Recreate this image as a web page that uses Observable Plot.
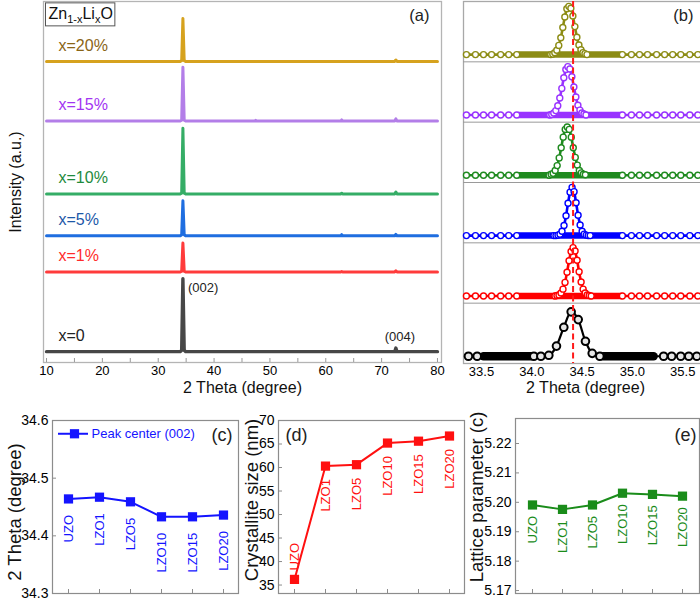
<!DOCTYPE html>
<html>
<head>
<meta charset="utf-8">
<script src="https://cdn.jsdelivr.net/npm/d3@7"></script>
<script src="https://cdn.jsdelivr.net/npm/@observablehq/plot@0.6"></script>
<style>
  body { margin: 0; background: #fff; }
  #fig { position: relative; width: 700px; height: 599px; overflow: hidden; background: #fff; }
  #fig svg { position: absolute; overflow: visible; }
</style>
</head>
<body>
<div id="fig"></div>
<script>
// ---------- Panel (a): XRD patterns of Zn(1-x)Li(x)O ----------
const samples = ["x=0", "x=1%", "x=5%", "x=10%", "x=15%", "x=20%"];
const traceColors = ["#474747", "#ff3b3b", "#1f6ee0", "#35ad66", "#b37ee8", "#d6a21e"];
const labelColors = ["#222222", "#ff2b2b", "#1d58a8", "#1e8a3c", "#a234f2", "#8a6416"];
const stackOffset = [3.0, 25.1, 35.1, 46.7, 66.9, 83.4];
const scanTwoTheta = [10, 33.95, 34.2, 34.42, 34.65, 34.9, 47.3, 47.45, 47.6, 62.7, 62.85, 63.0, 72.35, 72.55, 72.75, 80];
const scanIntensity = [
  [0, 0, 0.4, 20.2, 0.4, 0, 0, 0, 0, 0, 0, 0, 0, 1.0, 0, 0],
  [0, 0, 0.2, 8.0, 0.2, 0, 0, 0, 0, 0, 0.1, 0, 0, 0.3, 0, 0],
  [0, 0, 0.3, 9.7, 0.3, 0, 0, 0, 0, 0, 0.3, 0, 0, 0.4, 0, 0],
  [0, 0, 0.2, 18.2, 0.2, 0, 0, 0, 0, 0, 0.2, 0, 0, 0.5, 0, 0],
  [0, 0, 0.2, 14.9, 0.2, 0, 0, 0.2, 0, 0, 0.3, 0, 0, 0.6, 0, 0],
  [0, 0, 0.2, 11.9, 0.2, 0, 0, 0, 0, 0, 0, 0, 0, 0.4, 0, 0]
];
const majorTicksA = [10, 20, 30, 40, 50, 60, 70, 80];
const minorTicksA = [10, 15, 20, 25, 30, 35, 40, 45, 50, 55, 60, 65, 70, 75, 80];
const formulaParts = [["Zn", false], ["1-x", true], ["Li", false], ["x", true], ["O", false]];

// ---------- Panel (b): (002) peak profiles ----------
const zoomColors = ["#000000", "#ff0000", "#0000ff", "#1f8a1f", "#9933ff", "#8c8c14"];
const undopedTwoTheta = [34.02, 34.09, 34.169, 34.245, 34.318, 34.391, 34.461, 34.533, 34.600, 34.676];
const undopedIntensity = [0, 0, 0.02, 0.21, 0.60, 0.92, 0.76, 0.31, 0.06, 0];
const undopedCoarse = [33.37, 33.457, 35.31, 35.39, 35.48, 35.56, 35.64, 35.72];
const undopedFine = [[33.52, 33.99], [34.71, 35.21]];
const dopedCoarse = [33.35, 33.44, 33.52, 33.60, 33.69, 33.77, 33.85, 34.90, 34.99, 35.07, 35.15, 35.24, 35.32, 35.40, 35.48, 35.57, 35.65, 35.73];
const dopedFine = [33.87, 34.89];
const dopedCenters = [34.41, 34.40, 34.352, 34.358, 34.368];
const profileOffsets = [-0.18, -0.16, -0.14, -0.12, -0.10, -0.08, -0.06, -0.04, -0.02, 0, 0.02, 0.04, 0.06, 0.08, 0.10, 0.12, 0.14, 0.16, 0.18];
const profile1 = [0.00, 0.01, 0.02, 0.06, 0.14, 0.28, 0.49, 0.73, 0.92, 1.00, 0.93, 0.74, 0.50, 0.29, 0.14, 0.06, 0.02, 0.01, 0.00];
const profile5 = [0.00, 0.00, 0.01, 0.03, 0.09, 0.21, 0.41, 0.67, 0.90, 1.00, 0.91, 0.68, 0.42, 0.22, 0.09, 0.03, 0.01, 0.00, 0.00];
const profile10 = [0.00, 0.02, 0.04, 0.10, 0.20, 0.36, 0.57, 0.79, 0.95, 1.00, 0.95, 0.79, 0.57, 0.37, 0.21, 0.10, 0.05, 0.02, 0.01];
const profile15 = [0.00, 0.01, 0.04, 0.09, 0.19, 0.35, 0.55, 0.77, 0.94, 1.00, 0.95, 0.79, 0.58, 0.37, 0.20, 0.10, 0.04, 0.02, 0.00];
const profile20 = [0.00, 0.01, 0.04, 0.09, 0.19, 0.35, 0.56, 0.78, 0.95, 1.00, 0.96, 0.80, 0.58, 0.36, 0.20, 0.10, 0.04, 0.02, 0.00];
const referencePeak = 34.41;
const ticksB = [33.5, 34.0, 34.5, 35.0, 35.5];

// ---------- Panels (c)-(e): trends versus Li content ----------
const categories = ["UZO", "LZO1", "LZO5", "LZO10", "LZO15", "LZO20"];
const peakCenter002 = [34.464, 34.467, 34.459, 34.433, 34.433, 34.436];
const crystalliteSize = [36.2, 60.3, 60.6, 65.2, 65.6, 66.7];
const latticeC = [5.1991, 5.1976, 5.1991, 5.2031, 5.2027, 5.2021];
const ticksC = [34.3, 34.4, 34.5, 34.6];
const ticksD = [35, 40, 45, 50, 55, 60, 65, 70];
const ticksE = [5.17, 5.18, 5.19, 5.20, 5.21, 5.22];

const FONT = '"Liberation Sans", Arial, Helvetica, sans-serif';
const fig = document.getElementById("fig");
function place(svg, left, top) {
  svg.style.left = left + "px";
  svg.style.top = top + "px";
  fig.appendChild(svg);
  return svg;
}

// ---- (a) ----
{
  const W = 452, H = 400, mL = 43, mR = 11, mT = 1, mB = 38;
  const fh = H - mT - mB;
  const marks = [
    Plot.frame({stroke: "#b4b4b4", strokeWidth: 1.3}),
    Plot.tickX(minorTicksA, {x: d => d, insetTop: fh - 4, stroke: "#999"}),
    Plot.axisX({ticks: majorTicksA, tickSize: 0, tickPadding: 3, fontSize: 13, label: null, tickFormat: d => String(d)})
  ];
  samples.forEach((s, i) => {
    const rows = scanTwoTheta.map((t, j) => ({t, v: stackOffset[i] + scanIntensity[i][j]}));
    marks.push(Plot.line(rows, {x: "t", y: "v", stroke: traceColors[i], strokeWidth: i === 0 ? 3.4 : 3, strokeLinejoin: "round"}));
    marks.push(Plot.text([s], {frameAnchor: "left", y: stackOffset[i], dx: 15, dy: -16, text: d => d, textAnchor: "start", fill: labelColors[i], fontSize: 16}));
  });
  marks.push(
    Plot.text(["(002)"], {x: scanTwoTheta[3], y: stackOffset[0] + scanIntensity[0][3], dx: 5, dy: 9, text: d => d, textAnchor: "start", fontSize: 13, fill: "#222"}),
    Plot.text(["(004)"], {x: scanTwoTheta[13], y: stackOffset[0] + scanIntensity[0][13], dx: 4, dy: -11, text: d => d, fontSize: 13, fill: "#222"}),
    Plot.text(["(a)"], {frameAnchor: "top-right", dx: -12, dy: 8, lineAnchor: "top", textAnchor: "end", text: d => d, fontSize: 16.5, fill: "#222"}),
    Plot.text(["2 Theta (degree)"], {frameAnchor: "bottom", dy: 30, text: d => d, textAnchor: "middle", fontSize: 16, fill: "#111"}),
    Plot.text(["Intensity (a.u.)"], {frameAnchor: "left", rotate: -90, dx: -28, text: d => d, textAnchor: "middle", fontSize: 16, fill: "#111"}),
    Plot.text([formulaParts.map(p => p[0]).join("")], {frameAnchor: "top-left", dx: 5, dy: 6, lineAnchor: "top", textAnchor: "start", text: d => d, fontSize: 16, fill: "#111"})
  );
  const svg = Plot.plot({
    width: W, height: H, marginLeft: mL, marginRight: mR, marginTop: mT, marginBottom: mB,
    style: {fontFamily: FONT, background: "transparent"},
    x: {domain: [9.46, 80.72]},
    y: {domain: [0, 100], axis: null},
    marks
  });
  place(svg, 0, 0);

  // Compound formula with subscripts, boxed
  const formula = formulaParts.map(p => p[0]).join("");
  const t = [...svg.querySelectorAll("text")].find(n => n.textContent === formula);
  if (t) {
    const NS = "http://www.w3.org/2000/svg";
    t.textContent = "";
    formulaParts.forEach(([s, sub], i) => {
      const ts = document.createElementNS(NS, "tspan");
      ts.textContent = s;
      if (sub) { ts.setAttribute("font-size", "11"); ts.setAttribute("dy", "4"); }
      else if (i > 0 && formulaParts[i - 1][1]) ts.setAttribute("dy", "-4");
      t.appendChild(ts);
    });
    const bb = t.getBBox();
    const r = document.createElementNS(NS, "rect");
    r.setAttribute("x", bb.x - 3);
    r.setAttribute("y", bb.y - 2);
    r.setAttribute("width", bb.width + 5);
    r.setAttribute("height", bb.height + 3);
    r.setAttribute("fill", "white");
    r.setAttribute("stroke", "#555");
    r.setAttribute("stroke-width", "1");
    const tf = t.getAttribute("transform");
    if (tf) r.setAttribute("transform", tf);
    t.parentNode.insertBefore(r, t);
  }
}

// ---- (b) ----
{
  const W = 258, H = 400, mL = 11, mR = 3, mT = 1, mB = 37;
  const BASE = 0.12, AMP = 0.8;
  const marks = [
    Plot.frame({stroke: "#a8a8a8", strokeWidth: 1.3}),
    Plot.ruleY([1, 2, 3, 4, 5], {stroke: "#9a9a9a", strokeWidth: 1}),
    Plot.axisX({ticks: ticksB, tickFormat: d3.format(".1f"), tickSize: 0, tickPadding: 3, fontSize: 13, label: null})
  ];
  // undoped sample (bottom strip)
  {
    const base = BASE, color = zoomColors[0];
    const pts = undopedTwoTheta.map((t, j) => ({t, v: base + AMP * undopedIntensity[j]}));
    const coarse = undopedCoarse.map(t => ({t, v: base}));
    const fineEnds = undopedFine.flat().map(t => ({t, v: base}));
    const all = [...coarse, ...fineEnds, ...pts].sort((a, b) => a.t - b.t);
    marks.push(Plot.line(all, {x: "t", y: "v", stroke: color, strokeWidth: 2.2, curve: "monotone-x"}));
    undopedFine.forEach(([a, b]) => marks.push(Plot.line([{t: a, v: base}, {t: b, v: base}], {x: "t", y: "v", stroke: color, strokeWidth: 8.5, strokeLinecap: "round"})));
    marks.push(Plot.dot([...coarse, ...pts], {x: "t", y: "v", r: 3.8, stroke: color, strokeWidth: 2, fill: "#e6e6e6"}));
  }
  // doped samples, stacked upward
  [profile1, profile5, profile10, profile15, profile20].forEach((profile, idx) => {
    const k = idx + 1, base = k + BASE, color = zoomColors[k];
    const pts = profileOffsets.map((o, j) => ({t: dopedCenters[idx] + o, v: base + AMP * profile[j]}));
    const coarse = dopedCoarse.map(t => ({t, v: base}));
    const all = [...coarse, {t: dopedFine[0], v: base}, {t: dopedFine[1], v: base}, ...pts].sort((a, b) => a.t - b.t);
    marks.push(Plot.line([{t: dopedFine[0], v: base}, {t: dopedFine[1], v: base}], {x: "t", y: "v", stroke: color, strokeWidth: 6.5}));
    marks.push(Plot.line(all, {x: "t", y: "v", stroke: color, strokeWidth: 2.6, curve: "monotone-x"}));
    marks.push(Plot.dot([...coarse, ...pts], {x: "t", y: "v", r: 3, stroke: color, strokeWidth: 1.4, fill: "white"}));
  });
  marks.push(
    Plot.ruleX([referencePeak], {stroke: "#ff1a1a", strokeWidth: 2, strokeDasharray: "6,3.5"}),
    Plot.text(["(b)"], {frameAnchor: "top-right", dx: -14, dy: 8, lineAnchor: "top", textAnchor: "end", text: d => d, fontSize: 16.5, fill: "#222"}),
    Plot.text(["2 Theta (degree)"], {frameAnchor: "bottom", dy: 29, text: d => d, textAnchor: "middle", fontSize: 16, fill: "#111"})
  );
  const svg = Plot.plot({
    width: W, height: H, marginLeft: mL, marginRight: mR, marginTop: mT, marginBottom: mB,
    style: {fontFamily: FONT, background: "transparent"},
    x: {domain: [33.321, 35.746]},
    y: {domain: [0, 6], axis: null},
    marks
  });
  place(svg, 452, 0);
}

// ---- (c), (d), (e) ----
function trendPanel(cfg) {
  const {left, top, width, height, mL, mR, mT, mB, values, domain, ticks, tickFormat, color,
         title, titleDx, titleDy, tag, tagAnchor, tagDx, tagDy, gap, aboveFirst, extra = []} = cfg;
  const fw = width - mL - mR, fh = height - mT - mB;
  const idx = categories.map((_, i) => i);
  const below = aboveFirst ? idx.slice(1) : idx;
  const marks = [
    Plot.frame({stroke: "#8c8c8c", strokeWidth: 1.2}),
    Plot.tickX(categories, {x: d => d, insetTop: fh - 4, stroke: "#8c8c8c"}),
    Plot.tickY(ticks, {y: d => d, insetRight: fw - 4, stroke: "#8c8c8c"}),
    Plot.axisY({ticks, tickFormat, tickSize: 0, tickPadding: 4, fontSize: 14, label: null}),
    Plot.line(idx, {x: i => categories[i], y: i => values[i], stroke: color, strokeWidth: 2}),
    Plot.dot(idx, {x: i => categories[i], y: i => values[i], symbol: "square", r: 5.2, fill: color}),
    Plot.text(below, {x: i => categories[i], y: i => values[i], text: i => categories[i], rotate: -90, textAnchor: "end", dy: gap, fill: color, fontSize: 13}),
    Plot.text([title], {frameAnchor: "left", rotate: -90, dx: titleDx, dy: titleDy, text: d => d, textAnchor: "middle", fontSize: 18.5, fill: "#111"}),
    Plot.text([tag], {frameAnchor: tagAnchor, dx: tagDx, dy: tagDy, lineAnchor: "top", textAnchor: tagAnchor === "top-left" ? "start" : "end", text: d => d, fontSize: 18, fill: "#222"}),
    ...extra
  ];
  if (aboveFirst) {
    marks.push(Plot.text([0], {x: i => categories[i], y: i => values[i], text: i => categories[i], rotate: -90, textAnchor: "start", dy: -9, fill: color, fontSize: 13}));
  }
  const svg = Plot.plot({
    width, height, marginLeft: mL, marginRight: mR, marginTop: mT, marginBottom: mB,
    style: {fontFamily: FONT, background: "transparent"},
    x: {type: "point", domain: categories, padding: 0.5, axis: null},
    y: {domain, axis: null},
    marks
  });
  return place(svg, left, top);
}

const legendLevel = 34.577;
const blue = "#1414ff", red = "#ff1010", green = "#1a8c1a";
trendPanel({
  left: 0, top: 400, width: 245, height: 199, mL: 52, mR: 7, mT: 20, mB: 6,
  values: peakCenter002, domain: [34.3, 34.6], ticks: ticksC, tickFormat: d3.format(".1f"), color: blue,
  title: "2 Theta (degree)", titleDx: -37, titleDy: 5,
  tag: "(c)", tagAnchor: "top-right", tagDx: -6, tagDy: 8, gap: 16,
  extra: [
    Plot.ruleY([legendLevel], {insetLeft: 6, insetRight: 150, stroke: blue, strokeWidth: 2}),
    Plot.dot([legendLevel], {frameAnchor: "left", y: d => d, dx: 22, symbol: "square", r: 5.2, fill: blue}),
    Plot.text(["Peak center (002)"], {frameAnchor: "left", y: legendLevel, dx: 39, text: d => d, textAnchor: "start", fill: blue, fontSize: 13})
  ]
});
trendPanel({
  left: 245, top: 400, width: 225, height: 199, mL: 33, mR: 6, mT: 20, mB: 6,
  values: crystalliteSize, domain: [33.2, 70], ticks: ticksD, tickFormat: d => String(d), color: red,
  title: "Crystallite size (nm)", titleDx: -26.5, titleDy: -7,
  tag: "(d)", tagAnchor: "top-left", tagDx: 7, tagDy: 8, gap: 13, aboveFirst: true
});
trendPanel({
  left: 470, top: 400, width: 230, height: 199, mL: 45, mR: 1, mT: 18, mB: 6,
  values: latticeC, domain: [5.169, 5.2285], ticks: ticksE, tickFormat: d3.format(".2f"), color: green,
  title: "Lattice parameter (c)", titleDx: -38, titleDy: -9,
  tag: "(e)", tagAnchor: "top-right", tagDx: -3, tagDy: 10, gap: 11
});
</script>
</body>
</html>
